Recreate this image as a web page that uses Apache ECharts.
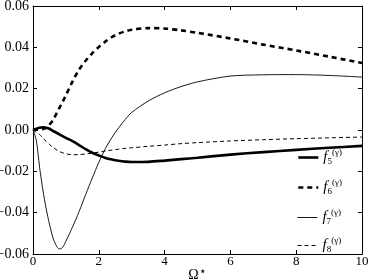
<!DOCTYPE html>
<html>
<head>
<meta charset="utf-8">
<script src="https://cdn.jsdelivr.net/npm/echarts@6/dist/echarts.min.js"></script>
<style>html,body{margin:0;padding:0;background:#fff}#c{width:374px;height:280px}</style>
</head>
<body>
<div id="c"></div>
<script>
var omega = [0, 0.1, 0.2, 0.3, 0.4, 0.5, 0.6, 0.7, 0.8, 0.9, 1.0, 1.2, 1.4, 1.6, 1.8, 2.0, 2.2, 2.4, 2.6, 2.8, 3.0, 3.5, 4, 4.5, 5, 6, 7, 8, 9, 10];
var f5 = [0, 0.0006, 0.0011, 0.0013, 0.0011, 0.0006, -0.0004, -0.0012, -0.0021, -0.0030, -0.0038, -0.0054, -0.0073, -0.0093, -0.0110, -0.0123, -0.0135, -0.0143, -0.0149, -0.0153, -0.0155, -0.0154, -0.0148, -0.0141, -0.0134, -0.0119, -0.0107, -0.0096, -0.0086, -0.0077];
var f6 = [0, 0.0001, 0.0002, 0.0005, 0.0010, 0.0026, 0.0046, 0.0075, 0.0106, 0.0136, 0.0168, 0.0234, 0.0292, 0.0335, 0.0371, 0.0402, 0.0428, 0.0450, 0.0466, 0.0477, 0.0485, 0.0493, 0.0491, 0.0482, 0.0470, 0.0443, 0.0413, 0.0385, 0.0355, 0.0324];
var f7 = [0, -0.0050, -0.0180, -0.0290, -0.0380, -0.0455, -0.0518, -0.0557, -0.0576, -0.0568, -0.0538, -0.0470, -0.0395, -0.0313, -0.0233, -0.0157, -0.0090, -0.0036, 0.0010, 0.0050, 0.0085, 0.0140, 0.0180, 0.0210, 0.0233, 0.0261, 0.0267, 0.0268, 0.0264, 0.0256];
var f8 = [0, -0.0011, -0.0022, -0.0039, -0.0055, -0.0070, -0.0083, -0.0094, -0.0104, -0.0110, -0.0115, -0.0120, -0.0119, -0.0116, -0.0112, -0.0107, -0.0102, -0.0097, -0.0093, -0.0089, -0.0086, -0.0079, -0.0073, -0.0066, -0.0061, -0.0053, -0.0047, -0.0042, -0.0038, -0.0034];
var xTicks = [0, 2, 4, 6, 8, 10];
var yTicks = [-0.06, -0.04, -0.02, 0.00, 0.02, 0.04, 0.06];
var names = ['f5', 'f6', 'f7', 'f8'];

function pairs(ys) { return omega.map(function (x, i) { return [x, ys[i]]; }); }
var serif = 'Liberation Serif';
var axisCommon = {
  axisLine: { show: true, onZero: false, lineStyle: { color: '#000', width: 1 } },
  axisTick: { show: true, inside: true, length: 4, lineStyle: { color: '#000', width: 1 } },
  splitLine: { show: false }
};
var chart = echarts.init(document.getElementById('c'), null, { renderer: 'canvas' });
var styles = [
  { width: 2.6, type: 'solid' },
  { width: 2.6, type: [5, 4] },
  { width: 0.9, type: 'solid' },
  { width: 1, type: [4, 3] }
];
var series = [f5, f6, f7, f8].map(function (d, i) {
  return {
    name: names[i], type: 'line', data: pairs(d), smooth: 0.3,
    showSymbol: false, symbol: 'none', animation: false, color: '#000',
    itemStyle: { color: '#000' },
    lineStyle: { color: '#000', width: styles[i].width, type: styles[i].type }
  };
});
var legendTops = [148, 178, 208, 236];
var legends = names.map(function (n, i) {
  return {
    orient: 'vertical', left: 297, top: legendTops[i], itemWidth: 20, itemHeight: 14, padding: 0,
    data: [{ name: n, lineStyle: { color: '#000', width: styles[i].width, type: styles[i].type } }],
    itemStyle: { opacity: 0, borderWidth: 0 },
    formatter: function (nm) { return '{f|f}{sub|' + nm.slice(1) + '}{sup|(γ)}'; },
    textStyle: {
      color: '#000',
      rich: {
        f: { fontFamily: serif, fontStyle: 'italic', fontSize: 15, color: '#000' },
        sub: { fontFamily: serif, fontSize: 9, color: '#000', padding: [8, 0, 0, 0] },
        sup: { fontFamily: serif, fontSize: 9, color: '#000', padding: [0, 0, 10, 0] }
      }
    }
  };
});
chart.setOption({
  animation: false,
  grid: { left: 33, right: 12, top: 6, bottom: 26, containLabel: false, outerBoundsMode: 'none' },
  legend: legends,
  xAxis: [
    Object.assign({ type: 'value', min: 0, max: 10, interval: 2, position: 'bottom',
      name: 'Ω{s|⋆}', nameLocation: 'middle', nameGap: 12, nameMoveOverlap: false,
      nameTextStyle: { fontFamily: serif, fontSize: 14, color: '#000', verticalAlign: 'top',
        rich: { s: { fontFamily: 'DejaVu Serif', fontSize: 12, color: '#000', padding: [0, 0, 6, 0] } } },
      axisLabel: { fontFamily: serif, fontSize: 13, color: '#000', margin: 1,
        formatter: function (v) { return xTicks.indexOf(v) >= 0 ? String(v) : ''; } }
    }, axisCommon),
    Object.assign({ type: 'value', min: 0, max: 10, interval: 2, position: 'top',
      axisLabel: { show: false } }, axisCommon)
  ],
  yAxis: [
    Object.assign({ type: 'value', min: -0.06, max: 0.06, interval: 0.02, position: 'left',
      axisLabel: { fontFamily: serif, fontSize: 14, color: '#000', margin: 4,
        formatter: function (v) {
          var r = Math.round(v * 100) / 100;
          var s = Math.abs(r).toFixed(2);
          return r < 0 ? '\u2212' + s : s;
        } }
    }, axisCommon),
    Object.assign({ type: 'value', min: -0.06, max: 0.06, interval: 0.02, position: 'right',
      axisLabel: { show: false } }, axisCommon)
  ],
  series: series
});
</script>
</body>
</html>
